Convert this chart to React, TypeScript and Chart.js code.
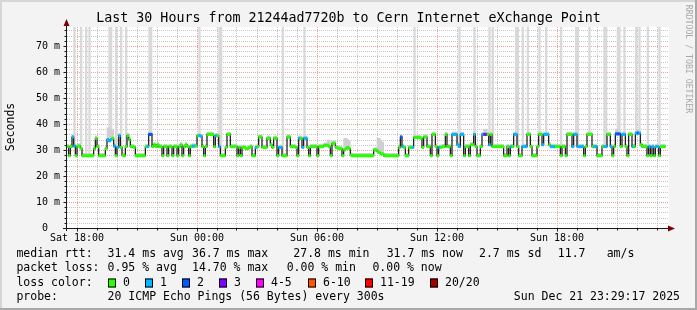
import React, { useEffect, useRef } from "react";
import { Chart, registerables } from "chart.js";
Chart.register(...registerables);

const W = 697;
const H = 310;

// time axis: minutes since Sat 00:00
const START_MIN = 1051.5;
const SPAN_MIN = 1800;
const STEP_MIN = 5;
const Y_MAX = 77.3;

// median RTT per 5-minute interval (ms)
const medianRtt = [
  // Sat 17:30 - 23:30
  31.3, 27.8, 31.3, 35, 31.5, 27.8, 31.5, 31.5, 30.5, 27.8,
  27.8, 27.8, 27.8, 27.8, 27.8, 27.8, 30.5, 34.5, 31.3, 27.8,
  27.8, 27.8, 27.8, 30.5, 34, 33.5, 34, 34.5, 31.5, 27.8,
  31, 35.5, 31, 28, 27.8, 31.3, 35.5, 34, 31.3, 31.3,
  31, 27.8, 27.8, 27.8, 27.8, 27.8, 27.8, 31.3, 31.3, 36,
  36, 31.3, 32, 31.3, 32, 31.3, 31.3, 27.8, 31.3, 31.3,
  27.8, 31.3, 31.3, 27.8, 31.3, 31.3, 27.8, 31.3, 32, 27.8,
  31.3, 32,
  // Sun 00:00 - 06:00
  31.3, 27.8, 31.3, 31.5, 31.5, 31.5, 35.5, 35.5, 35.3, 31.3,
  27.8, 31.3, 36, 36, 36, 36, 31.3, 35.5, 35.5, 31.3,
  27.8, 27.8, 27.8, 31, 36, 36, 31.3, 31.3, 31.3, 31.3,
  27.8, 31, 27.8, 31, 31, 30.5, 30.5, 31, 31.3, 27.8,
  27.8, 31, 31.3, 35, 35, 31, 31, 31, 34.5, 34.5,
  32, 31, 34.5, 34.5, 27.8, 31, 31, 27.8, 27.8, 27.8,
  35, 35, 31.3, 31.3, 31.3, 31, 27.8, 34.5, 34.5, 31,
  34.5, 34.5,
  // Sun 06:00 - 12:00
  31, 27.8, 31.3, 31.3, 31.3, 31.3, 27.8, 31.3, 31.3, 31.3,
  31.8, 31.8, 31.8, 31.3, 27.8, 32.6, 32.6, 31, 30.8, 30.5,
  30.5, 27.8, 30, 30.5, 31, 30.5, 28, 27.8, 27.8, 27.8,
  27.8, 27.8, 27.8, 27.8, 27.8, 27.8, 27.8, 27.8, 27.8, 27.8,
  30, 30, 29.5, 29, 28.5, 28.5, 27.8, 27.8, 27.8, 27.8,
  27.8, 27.8, 27.8, 27.8, 27.8, 31, 35, 31.3, 31, 27.8,
  27.8, 31, 31, 31, 34.8, 34.8, 34.8, 34.8, 34.5, 31,
  35, 35,
  // Sun 12:00 - 18:00
  31.3, 31.3, 27.8, 36, 36, 31.3, 27.8, 31, 31, 31.3,
  31.3, 36, 31.3, 31.3, 27.8, 36, 36, 36, 32, 31.3,
  36, 36, 27.8, 31.3, 31.3, 27.8, 32, 32, 36, 31.3,
  27.8, 27.8, 31.3, 36, 36, 36, 36, 32, 36, 31.3,
  31.3, 31.3, 31.3, 31.3, 31.3, 31.3, 27.8, 27.8, 31.3, 27.8,
  31.3, 31.3, 36, 36, 31.3, 27.8, 27.8, 31.3, 31.3, 31.3,
  36, 36, 31.3, 27.8, 27.8, 27.8, 31.3, 36, 36, 32,
  36, 36,
  // Sun 18:00 - 23:25
  36, 32, 31.3, 31.3, 31.3, 31.3, 31.3, 31.3, 27.8, 31.3,
  31.3, 27.8, 36, 36, 36, 31.3, 36, 36, 31.3, 31.3,
  31.3, 31.3, 27.8, 31.3, 36, 36, 36, 31.3, 31.3, 31.3,
  27.8, 27.8, 27.8, 31.3, 31.3, 31.3, 36, 36, 31.3, 27.8,
  31.3, 36.2, 36.2, 36.2, 31.3, 36, 36, 31.3, 27.8, 36,
  36, 31.3, 31.3, 36.5, 36.5, 36.5, 32, 31.3, 31.3, 31.3,
  27.8, 31.3, 27.8, 31.3, 27.8, 31.3, 31.3, 27.8, 31.3, 31.3,
  31.3,
];

// intervals with lost pings (index, pings lost of 20)
const lossIdx = [
  3, 4, 24, 25, 26, 28, 30, 31, 48, 49, 50,
  75, 76, 79, 80, 89, 91, 113, 127, 128, 139, 141, 142, 143,
  200, 201, 207,
  223, 231, 232, 233, 234, 235, 236, 237, 244, 249, 250, 251, 253, 266, 268, 269, 273, 274, 275, 285, 286, 287,
  288, 290, 291, 292, 303, 304, 305, 306, 307, 308, 309, 316, 317, 322, 323, 326, 329, 330, 331, 333, 334, 339, 341, 342, 343, 349, 351, 353, 354,
];
const lossCnt = [
  1, 1, 1, 1, 1, 1, 1, 1, 1, 2, 2,
  1, 1, 1, 1, 1, 1, 1, 1, 1, 1, 1, 1, 1,
  2, 1, 1,
  1, 1, 1, 1, 1, 1, 1, 1, 1, 1, 3, 3, 1, 1, 1, 1, 1, 1, 1, 1, 1, 1,
  1, 1, 1, 1, 1, 1, 1, 1, 1, 1, 1, 1, 1, 1, 1, 1, 2, 2, 2, 1, 1, 1, 1, 2, 1, 1, 1, 1, 1,
];

// intervals whose slowest pings exceed the top of the graph
const spikeIdx = [
  4, 8, 11, 13, 25, 26, 29, 32, 35, 49, 50, 79, 91, 92, 129, 142, 208,
  235, 244, 253, 255, 269, 270, 273, 276, 283, 287, 296, 305, 306, 313,
  322, 323, 330, 331, 334, 341, 343, 348, 355,
];

// intervals with wider smoke (index, upper ping value ms)
const smokeIdx = [24, 25, 26, 27, 156, 157, 166, 167, 168, 169, 186, 187, 188, 189, 250, 251, 329, 330, 342];
const smokeTop = [38.5, 38.5, 38, 37.5, 33.8, 33.8, 34.5, 34.5, 34, 33.5, 34.5, 34.5, 33.5, 33, 38, 38, 38, 38, 38];

const xTickMinutes = [1080, 1440, 1800, 2160, 2520];
const xTickLabels = ["Sat 18:00", "Sun 00:00", "Sun 06:00", "Sun 12:00", "Sun 18:00"];
const yTickValues = [0, 10, 20, 30, 40, 50, 60, 70];
const yTickLabels = ["0  ", "10 m", "20 m", "30 m", "40 m", "50 m", "60 m", "70 m"];

const titleText = "Last 30 Hours from 21244ad7720b to Cern Internet eXchange Point";
const yAxisTitle = "Seconds";
const watermark = "RRDTOOL / TOBI OETIKER";

const rttLabel = "median rtt:";
const rttStats = ["31.4 ms avg", "36.7 ms max", "27.8 ms min", "31.7 ms now", "2.7 ms sd", "11.7", "am/s"];
const lossLabel = "packet loss:";
const lossStats = ["0.95 % avg", "14.70 % max", "0.00 % min", "0.00 % now"];
const lossColorLabel = "loss color:";
const lossLegend = ["0", "1", "2", "3", "4-5", "6-10", "11-19", "20/20"];
const lossColors = ["#26ff00", "#00b8ff", "#0059ff", "#7e00ff", "#ff00ff", "#ff5500", "#ff0000", "#a10000"];
const probeLabel = "probe:";
const probeText = "20 ICMP Echo Pings (56 Bytes) every 300s";
const stampText = "Sun Dec 21 23:29:17 2025";

const MONO = '"DejaVu Sans Mono", monospace';
const BACK = "#f3f3f3";
const GRID = "#c6c6c6";
const MGRID = "#f2a0a0";

function lossBucket(c: number) {
  if (c <= 3) return c;
  if (c <= 5) return 4;
  if (c <= 10) return 5;
  if (c <= 19) return 6;
  return 7;
}

const lossMap = new Map<number, number>();
lossIdx.forEach((idx, k) => lossMap.set(idx, lossCnt[k]));
const smokeMap = new Map<number, number>();
smokeIdx.forEach((idx, k) => smokeMap.set(idx, smokeTop[k]));

const tStart = (i: number) => START_MIN + i * STEP_MIN;
const tMid = (i: number) => START_MIN + i * STEP_MIN + STEP_MIN / 2;

const rrdPlugin = {
  id: "rrd",
  beforeDraw(chart: any) {
    const { ctx, chartArea: a } = chart;
    ctx.save();
    ctx.fillStyle = BACK;
    ctx.fillRect(0, 0, W, H);
    // frame
    ctx.fillStyle = "#d6d6d6";
    ctx.fillRect(0, 0, W, 2);
    ctx.fillRect(0, 0, 2, H);
    ctx.fillStyle = "#a8a8a8";
    ctx.fillRect(W - 2, 0, 2, H);
    ctx.fillRect(0, H - 2, W, 2);
    ctx.fillStyle = "#ffffff";
    ctx.fillRect(a.left, a.top, a.right - a.left + 2, a.bottom - a.top);
    ctx.restore();
  },
  beforeDatasetsDraw(chart: any) {
    const { ctx, chartArea: a, scales } = chart;
    const x = scales.x;
    const y = scales.y;
    ctx.save();
    ctx.lineWidth = 1;
    ctx.setLineDash([1, 1]);
    for (let v = 2; v <= Y_MAX; v += 2) {
      const py = Math.round(y.getPixelForValue(v)) + 0.5;
      ctx.strokeStyle = v % 10 === 0 ? MGRID : GRID;
      ctx.beginPath();
      ctx.moveTo(a.left, py);
      ctx.lineTo(a.right + 2, py);
      ctx.stroke();
    }
    for (let m = Math.ceil(START_MIN / 60) * 60; m <= START_MIN + SPAN_MIN; m += 60) {
      const px = Math.round(x.getPixelForValue(m)) + 0.5;
      ctx.strokeStyle = m % 360 === 0 ? MGRID : GRID;
      ctx.beginPath();
      ctx.moveTo(px, a.top);
      ctx.lineTo(px, a.bottom);
      ctx.stroke();
    }
    ctx.restore();
  },
  afterDraw(chart: any) {
    const { ctx, chartArea: a, scales } = chart;
    const x = scales.x;
    const y = scales.y;
    ctx.save();
    ctx.setLineDash([]);
    ctx.lineWidth = 1;
    ctx.strokeStyle = "#1a1a1a";
    const ax = a.left - 0.5;
    const ay = a.bottom + 0.5;
    // y ticks
    for (let v = 0; v <= Y_MAX; v += 2) {
      const py = Math.round(y.getPixelForValue(v)) + 0.5;
      const len = v % 10 === 0 ? 3 : 2;
      ctx.beginPath();
      ctx.moveTo(ax - len, py);
      ctx.lineTo(ax, py);
      ctx.stroke();
    }
    // x ticks
    for (let m = Math.ceil(START_MIN / 60) * 60; m <= START_MIN + SPAN_MIN; m += 60) {
      const px = Math.round(x.getPixelForValue(m)) + 0.5;
      const len = m % 360 === 0 ? 3 : 2;
      ctx.beginPath();
      ctx.moveTo(px, ay);
      ctx.lineTo(px, ay + len);
      ctx.stroke();
    }
    // axes
    ctx.beginPath();
    ctx.moveTo(ax, a.bottom + 3);
    ctx.lineTo(ax, a.top - 4);
    ctx.moveTo(a.left - 4, ay);
    ctx.lineTo(a.right + 4, ay);
    ctx.stroke();
    // arrows
    ctx.fillStyle = "#7f0000";
    ctx.beginPath();
    ctx.moveTo(ax, a.top - 8);
    ctx.lineTo(ax - 3, a.top - 1);
    ctx.lineTo(ax + 3, a.top - 1);
    ctx.closePath();
    ctx.fill();
    ctx.beginPath();
    ctx.moveTo(a.right + 8, ay);
    ctx.lineTo(a.right + 1, ay - 3);
    ctx.lineTo(a.right + 1, ay + 3);
    ctx.closePath();
    ctx.fill();

    // tick labels
    ctx.fillStyle = "#000";
    ctx.font = `10px ${MONO}`;
    ctx.textBaseline = "middle";
    ctx.textAlign = "right";
    yTickValues.forEach((v, k) => {
      ctx.fillText(yTickLabels[k], 60, y.getPixelForValue(v) + 0.5);
    });
    ctx.textAlign = "center";
    xTickMinutes.forEach((m, k) => {
      ctx.fillText(xTickLabels[k], x.getPixelForValue(m) + 0.5, 238);
    });

    // title
    ctx.font = `13.3px ${MONO}`;
    ctx.textAlign = "center";
    ctx.fillText(titleText, W / 2, 19);

    // y title
    ctx.save();
    ctx.font = `11.5px ${MONO}`;
    ctx.translate(11, 127);
    ctx.rotate(-Math.PI / 2);
    ctx.textAlign = "center";
    ctx.fillText(yAxisTitle, 0, 0);
    ctx.restore();

    // watermark
    ctx.save();
    ctx.font = `8.2px ${MONO}`;
    ctx.fillStyle = "#a8a8a8";
    ctx.translate(688, 59);
    ctx.rotate(Math.PI / 2);
    ctx.textAlign = "center";
    ctx.fillText(watermark, 0, 0);
    ctx.restore();

    // legend
    ctx.font = `11.5px ${MONO}`;
    ctx.textAlign = "left";
    ctx.fillStyle = "#000";
    const r1 = 254, r2 = 268, r3 = 283, r4 = 297;
    ctx.fillText(rttLabel, 16.4, r1);
    const rttX = [107.6, 192, 293.3, 386.7, 479, 557.8, 606.7];
    rttStats.forEach((s, k) => ctx.fillText(s, rttX[k], r1));
    ctx.fillText(lossLabel, 16.4, r2);
    const lossX = [107.6, 192, 286.7, 372.4];
    lossStats.forEach((s, k) => ctx.fillText(s, lossX[k], r2));
    ctx.fillText(lossColorLabel, 16.4, r3);
    const swX = [108, 145.3, 182.2, 219, 256.4, 307.6, 365.3, 430];
    lossLegend.forEach((s, k) => {
      const sx = Math.round(swX[k]);
      ctx.fillStyle = lossColors[k];
      ctx.fillRect(sx, r3 - 4.5, 8, 9);
      ctx.strokeStyle = "#000";
      ctx.strokeRect(sx + 0.5, r3 - 4.5 + 0.5, 7, 8);
      ctx.fillStyle = "#000";
      ctx.fillText(s, sx + 15, r3);
    });
    ctx.fillText(probeLabel, 16.4, r4);
    ctx.fillText(probeText, 107.6, r4);
    ctx.textAlign = "right";
    ctx.fillText(stampText, 680, r4);
    ctx.restore();
  },
};

export default function App() {
  const ref = useRef<HTMLCanvasElement>(null);
  useEffect(() => {
    document.body.style.margin = "0";
    const n = medianRtt.length;
    const medianPts = medianRtt.map((v, i) => ({ x: tStart(i), y: v }));
    medianPts.push({ x: tStart(n), y: medianRtt[n - 1] });
    const lossBars = medianRtt.map((v, i) => ({ x: tMid(i), y: [v - 0.45, v + 0.45] }));
    const lossBarColors = medianRtt.map((_, i) => lossColors[lossBucket(lossMap.get(i) ?? 0)]);
    const smokeBars = medianRtt.map((v, i) => ({ x: tMid(i), y: [v - 0.3, smokeMap.get(i) ?? v + 0.9] }));
    const spikeBars = spikeIdx.map((i) => ({ x: tMid(i), y: [medianRtt[i] + 0.5, Y_MAX] }));

    const barCommon = {
      type: "bar" as const,
      grouped: false,
      barPercentage: 1,
      categoryPercentage: 1,
      borderWidth: 0,
    };

    const chart = new Chart(ref.current!, {
      type: "bar",
      data: {
        datasets: [
          { ...barCommon, label: "spikes", data: spikeBars as any, backgroundColor: "#d9d9d9", order: 5 },
          { ...barCommon, label: "smoke", data: smokeBars as any, backgroundColor: "#cfcfcf", order: 4 },
          {
            type: "line",
            label: "median",
            data: medianPts as any,
            stepped: "before",
            borderColor: "#111",
            borderWidth: 1.2,
            pointRadius: 0,
            fill: false,
            order: 2,
          } as any,
          { ...barCommon, label: "loss", data: lossBars as any, backgroundColor: lossBarColors, order: 1 },
        ],
      },
      options: {
        responsive: false,
        animation: false,
        devicePixelRatio: 1,
        layout: { padding: { left: 67, right: 30, top: 27, bottom: 82 } },
        plugins: { legend: { display: false }, tooltip: { enabled: false }, title: { display: false } },
        scales: {
          x: { type: "linear", offset: false, min: START_MIN, max: START_MIN + SPAN_MIN, display: false },
          y: { type: "linear", min: 0, max: Y_MAX, display: false },
        },
      },
      plugins: [rrdPlugin],
    });
    return () => chart.destroy();
  }, []);
  return (
    <div style={{ width: W, height: H }}>
      <canvas ref={ref} width={W} height={H} style={{ display: "block", width: W, height: H }} />
    </div>
  );
}
